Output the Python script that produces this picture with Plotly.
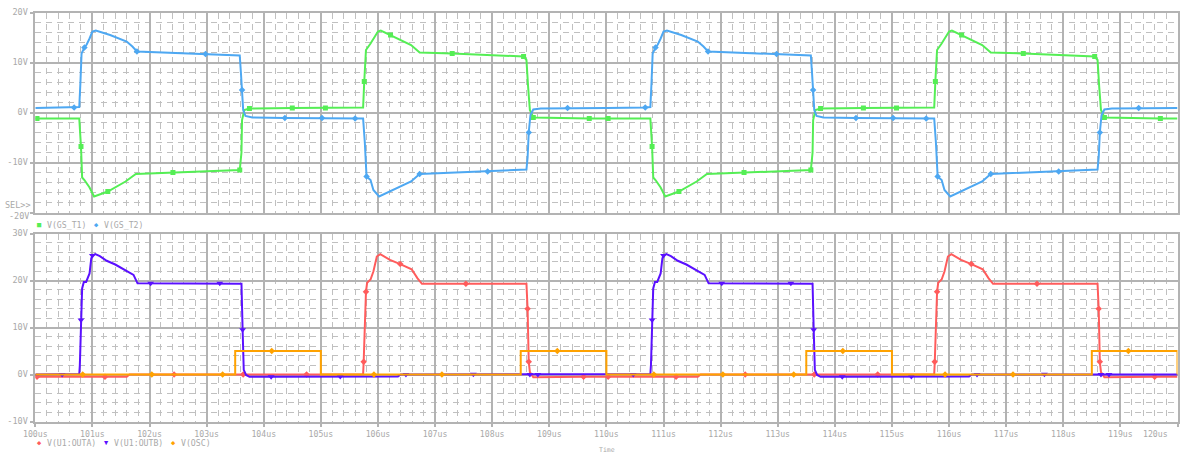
import plotly.graph_objects as go

# ---------------- time axis (us) ----------------
x_ticks = [100, 101, 102, 103, 104, 105, 106, 107, 108, 109, 110,
           111, 112, 113, 114, 115, 116, 117, 118, 119, 120]
x_tick_labels = ["100us", "101us", "102us", "103us", "104us", "105us", "106us",
                 "107us", "108us", "109us", "110us", "111us", "112us", "113us",
                 "114us", "115us", "116us", "117us", "118us", "119us", "120us"]

top_y_ticks = [20, 10, 0, -10, -20]
top_y_labels = ["20V", "10V", "0V", "-10V", ""]
bot_y_ticks = [30, 20, 10, 0, -10]
bot_y_labels = ["30V", "20V", "10V", "0V", "-10V"]

# ---------------- V(GS_T1) ----------------
gs_t1_time = [100.00, 100.03, 100.77, 100.79, 100.80, 100.82, 100.86, 100.95, 101.03, 101.27,
              101.58, 101.76, 102.41, 103.58, 103.61, 103.62, 103.66, 103.75, 104.50, 105.08,
              105.74, 105.76, 105.79, 105.87, 106.00, 106.05, 106.22, 106.58, 106.73, 107.30,
              108.55, 108.60, 108.63, 108.66, 108.72, 109.00, 109.70,
              110.00, 110.03, 110.77, 110.79, 110.80, 110.82, 110.86, 110.95, 111.03, 111.27,
              111.58, 111.76, 112.41, 113.58, 113.61, 113.62, 113.66, 113.75, 114.50, 115.08,
              115.74, 115.76, 115.79, 115.87, 116.00, 116.05, 116.22, 116.58, 116.73, 117.30,
              118.55, 118.60, 118.63, 118.66, 118.72, 119.00, 119.70, 120.00]
gs_t1_volt = [-1.2, -1.2, -1.2, -5.0, -6.8, -13.0, -13.5, -15.0, -16.8, -15.8,
              -13.8, -12.3, -12.0, -11.5, -8.0, -1.5, 0.5, 0.8, 0.9, 0.9,
              1.0, 6.2, 12.5, 13.8, 16.2, 16.4, 15.5, 13.5, 12.0, 11.8,
              11.2, 10.5, 5.0, 0.5, -1.0, -1.1, -1.2,
              -1.2, -1.2, -1.2, -5.0, -6.8, -13.0, -13.5, -15.0, -16.8, -15.8,
              -13.8, -12.3, -12.0, -11.5, -8.0, -1.5, 0.5, 0.8, 0.9, 0.9,
              1.0, 6.2, 12.5, 13.8, 16.2, 16.4, 15.5, 13.5, 12.0, 11.8,
              11.2, 10.5, 5.0, 0.5, -1.0, -1.1, -1.2, -1.2]
gs_t1_marks = [100.03, 100.80, 101.27, 102.41, 103.58, 103.75, 104.50, 105.08, 105.76,
               106.22, 107.30, 108.55, 108.72, 109.70,
               110.03, 110.80, 111.27, 112.41, 113.58, 113.75, 114.50, 115.08, 115.76,
               116.22, 117.30, 118.55, 118.72, 119.70]

# ---------------- V(GS_T2) ----------------
gs_t2_time = [100.00, 100.68, 100.77, 100.79, 100.81, 100.86, 100.90, 100.95, 101.00, 101.06,
              101.31, 101.60, 101.70, 101.78, 102.53, 102.98, 103.58, 103.60, 103.62, 103.64,
              103.68, 103.80, 104.37, 105.02, 105.60, 105.74, 105.77, 105.80, 105.87, 105.92,
              106.02, 106.17, 106.58, 106.73, 107.92, 108.60, 108.62, 108.64, 108.67, 108.72,
              108.85, 109.32,
              110.00, 110.68, 110.77, 110.79, 110.81, 110.86, 110.90, 110.95, 111.00, 111.06,
              111.31, 111.60, 111.70, 111.78, 112.53, 112.98, 113.58, 113.60, 113.62, 113.64,
              113.68, 113.80, 114.37, 115.02, 115.60, 115.74, 115.77, 115.80, 115.87, 115.92,
              116.02, 116.17, 116.58, 116.73, 117.92, 118.60, 118.62, 118.64, 118.67, 118.72,
              118.85, 119.32, 120.00]
gs_t2_volt = [0.9, 1.0, 1.1, 6.0, 11.8, 13.0, 13.6, 14.8, 16.2, 16.4,
              15.5, 14.2, 13.2, 12.2, 11.9, 11.7, 11.4, 8.0, 4.5, 0.5,
              -0.7, -1.0, -1.1, -1.1, -1.2, -1.2, -6.0, -12.8, -13.5, -15.5,
              -16.8, -16.0, -13.8, -12.3, -11.8, -11.4, -9.0, -4.0, -0.5, 0.6,
              0.8, 0.9,
              0.9, 1.0, 1.1, 6.0, 11.8, 13.0, 13.6, 14.8, 16.2, 16.4,
              15.5, 14.2, 13.2, 12.2, 11.9, 11.7, 11.4, 8.0, 4.5, 0.5,
              -0.7, -1.0, -1.1, -1.1, -1.2, -1.2, -6.0, -12.8, -13.5, -15.5,
              -16.8, -16.0, -13.8, -12.3, -11.8, -11.4, -9.0, -4.0, -0.5, 0.6,
              0.8, 0.9, 0.9]
gs_t2_marks = [100.68, 100.86, 101.78, 102.98, 103.62, 104.37, 105.02, 105.60, 105.80,
               106.73, 107.92, 108.64, 109.32,
               110.68, 110.86, 111.78, 112.98, 113.62, 114.37, 115.02, 115.60, 115.80,
               116.73, 117.92, 118.64, 119.32]

# ---------------- V(U1:OUTA) ----------------
outa_time = [100.00, 100.03, 101.22, 101.60, 101.65, 102.43, 103.64, 104.75, 105.74, 105.75,
             105.79, 105.81, 105.87, 105.92, 105.98, 106.04, 106.21, 106.39, 106.59, 106.69,
             106.77, 107.54, 108.60, 108.62, 108.64, 108.66, 108.72, 109.60,
             110.00, 110.03, 111.22, 111.60, 111.65, 112.43, 113.64, 114.75, 115.74, 115.75,
             115.79, 115.81, 115.87, 115.92, 115.98, 116.04, 116.21, 116.39, 116.59, 116.69,
             116.77, 117.54, 118.60, 118.62, 118.64, 118.66, 118.72, 119.60, 120.00]
outa_volt = [-0.5, -0.5, -0.5, -0.5, 0.0, 0.0, 0.0, 0.0, 0.0, 2.7,
             17.6, 19.5, 20.2, 21.9, 25.1, 25.6, 24.4, 23.5, 22.4, 20.5,
             19.3, 19.3, 19.3, 14.0, 2.7, 0.5, -0.6, -0.5,
             -0.5, -0.5, -0.5, -0.5, 0.0, 0.0, 0.0, 0.0, 0.0, 2.7,
             17.6, 19.5, 20.2, 21.9, 25.1, 25.6, 24.4, 23.5, 22.4, 20.5,
             19.3, 19.3, 19.3, 14.0, 2.7, 0.5, -0.6, -0.5, -0.5]
outa_marks = [100.03, 101.22, 102.43, 103.64, 104.75, 105.75, 105.79, 106.39, 107.54,
              108.62, 108.64, 109.60,
              110.03, 111.22, 112.43, 113.64, 114.75, 115.75, 115.79, 116.39, 117.54,
              118.62, 118.64, 119.60]

# ---------------- V(U1:OUTB) ----------------
outb_time = [100.00, 100.47, 100.77, 100.78, 100.80, 100.82, 100.85, 100.89, 100.95, 100.98,
             101.00, 101.05, 101.13, 101.25, 101.40, 101.57, 101.72, 101.79, 102.02, 103.23,
             103.61, 103.63, 103.65, 103.69, 103.75, 104.13, 105.34, 106.35, 106.40, 106.49,
             107.67, 108.60, 108.66, 108.80,
             110.00, 110.47, 110.77, 110.78, 110.80, 110.82, 110.85, 110.89, 110.95, 110.98,
             111.00, 111.05, 111.13, 111.25, 111.40, 111.57, 111.72, 111.79, 112.02, 113.23,
             113.61, 113.63, 113.65, 113.69, 113.75, 114.13, 115.34, 116.35, 116.40, 116.49,
             117.67, 118.60, 118.66, 118.80, 120.00]
outb_volt = [0.0, 0.0, 0.1, 2.0, 11.6, 18.3, 19.7, 19.7, 21.5, 24.7,
             25.3, 25.6, 25.2, 24.2, 23.4, 22.2, 21.2, 19.4, 19.4, 19.4,
             19.3, 9.5, 1.0, -0.1, -0.5, -0.5, -0.4, -0.4, 0.0, 0.0,
             0.05, 0.05, 0.0, 0.0,
             0.0, 0.0, 0.1, 2.0, 11.6, 18.3, 19.7, 19.7, 21.5, 24.7,
             25.3, 25.6, 25.2, 24.2, 23.4, 22.2, 21.2, 19.4, 19.4, 19.4,
             19.3, 9.5, 1.0, -0.1, -0.5, -0.5, -0.4, -0.4, 0.0, 0.0,
             0.05, 0.05, 0.0, 0.0, 0.0]
outb_marks = [100.47, 100.80, 101.00, 102.02, 103.23, 103.63, 104.13, 105.34, 106.49,
              107.67, 108.66, 108.80,
              110.47, 110.80, 111.00, 112.02, 113.23, 113.63, 114.13, 115.34, 116.49,
              117.67, 118.66, 118.80]

# ---------------- V(OSC) ----------------
osc_time = [100.00, 100.83, 102.04, 103.28, 103.50, 103.50, 104.14, 105.00, 105.00, 105.93,
            107.12, 108.50, 108.50, 109.14,
            110.00, 110.00, 110.83, 112.04, 113.28, 113.50, 113.50, 114.14, 115.00, 115.00,
            115.93, 117.12, 118.50, 118.50, 119.14, 120.00, 120.00]
osc_volt = [0.0, 0.0, 0.0, 0.0, 0.0, 5.0, 5.0, 5.0, 0.0, 0.0,
            0.0, 0.0, 5.0, 5.0,
            5.0, 0.0, 0.0, 0.0, 0.0, 0.0, 5.0, 5.0, 5.0, 0.0,
            0.0, 0.0, 0.0, 5.0, 5.0, 5.0, 0.0]
osc_marks = [100.83, 102.04, 103.28, 104.14, 105.93, 107.12, 109.14,
             110.83, 112.04, 113.28, 114.14, 115.93, 117.12, 119.14]

# ---------------- styling ----------------
W, H = 1185, 454
FONT = "DejaVu Sans Mono"
TXT = "#a9a9a9"
GRID_MAJOR = "#b3b3b3"
GRID_MINOR = "#c0c0c0"
MINOR_DASH = "6px,5px"

C_T1 = "#55ee55"
C_T2 = "#4ea8f2"
C_OUTA = "#ff5c5c"
C_OUTB = "#5a10ff"
C_OSC = "#ffa200"

X0, X1 = 35.3, 1177.5          # plot left/right edges (px)
TOP_Y0, TOP_Y1 = 12.5, 212.5   # top plot (px from top)
BOT_Y0, BOT_Y1 = 233.5, 421.5  # bottom plot


def px_x(p):
    return p / W


def px_y(p):
    return 1 - p / H


fig = go.Figure()


def add_signal(t, v, marks, color, symbol, size, xa, ya):
    fig.add_trace(go.Scatter(x=t, y=v, mode="lines", line=dict(color=color, width=2),
                             xaxis=xa, yaxis=ya, showlegend=False, hoverinfo="skip"))
    idx = [t.index(m) for m in marks]
    fig.add_trace(go.Scatter(x=[t[i] for i in idx], y=[v[i] for i in idx], mode="markers",
                             marker=dict(color=color, symbol=symbol, size=size,
                                         line=dict(width=0)),
                             xaxis=xa, yaxis=ya, showlegend=False, hoverinfo="skip"))


add_signal(gs_t1_time, gs_t1_volt, gs_t1_marks, C_T1, "square", 5, "x", "y")
add_signal(gs_t2_time, gs_t2_volt, gs_t2_marks, C_T2, "diamond", 5, "x", "y")
add_signal(outa_time, outa_volt, outa_marks, C_OUTA, "diamond", 5, "x2", "y2")
add_signal(outb_time, outb_volt, outb_marks, C_OUTB, "triangle-down", 6, "x2", "y2")
add_signal(osc_time, osc_volt, osc_marks, C_OSC, "diamond", 5, "x2", "y2")

# the last time label sits inside the right edge, so it is drawn as a note below
shown_x_labels = x_tick_labels[:-1] + [""]

common_x = dict(range=[100, 120], domain=[px_x(X0), px_x(X1)], automargin=False,
                tickvals=x_ticks, showgrid=True, gridcolor=GRID_MAJOR, gridwidth=1.6,
                minor=dict(dtick=0.2, tick0=100, showgrid=True, gridcolor=GRID_MINOR,
                           gridwidth=1.4, griddash=MINOR_DASH, ticks=""),
                showline=True, mirror=True, linecolor=GRID_MAJOR, linewidth=1.6,
                zeroline=False, fixedrange=True, ticklabeloverflow="allow",
                tickfont=dict(family=FONT, size=8.2, color=TXT))

common_y = dict(showgrid=True, gridcolor=GRID_MAJOR, gridwidth=1.6, automargin=False,
                showline=True, mirror=True, linecolor=GRID_MAJOR, linewidth=1.6,
                zeroline=False, fixedrange=True, ticks="outside", ticklen=4,
                tickcolor=GRID_MAJOR, tickwidth=1.5,
                tickfont=dict(family=FONT, size=8.5, color=TXT))

fig.update_layout(
    width=W, height=H, margin=dict(l=0, r=0, t=0, b=0),
    paper_bgcolor="white", plot_bgcolor="white",
    xaxis=dict(common_x, anchor="y", ticks="", showticklabels=False),
    yaxis=dict(common_y, anchor="x", range=[-20, 20],
               domain=[px_y(TOP_Y1), px_y(TOP_Y0)],
               tickvals=top_y_ticks, ticktext=top_y_labels,
               minor=dict(dtick=2, tick0=0, showgrid=True, gridcolor=GRID_MINOR,
                          gridwidth=1.4, griddash=MINOR_DASH, ticks="")),
    xaxis2=dict(common_x, anchor="y2", ticks="outside", ticklen=4, tickcolor=GRID_MAJOR,
                tickwidth=1.5, ticktext=shown_x_labels, showticklabels=True,
                ticklabelstandoff=0),
    yaxis2=dict(common_y, anchor="x2", range=[-10, 30],
                domain=[px_y(BOT_Y1), px_y(BOT_Y0)],
                tickvals=bot_y_ticks, ticktext=bot_y_labels,
                minor=dict(dtick=2, tick0=0, showgrid=True, gridcolor=GRID_MINOR,
                           gridwidth=1.4, griddash=MINOR_DASH, ticks="")),
)


def note(text, xp, yp, size=8.2, color=TXT, xanchor="left"):
    fig.add_annotation(text=text, x=px_x(xp), y=px_y(yp), xref="paper", yref="paper",
                       xanchor=xanchor, yanchor="middle", showarrow=False,
                       font=dict(family=FONT, size=size, color=color))


# last time label, pulled in from the right edge
note(x_tick_labels[-1], 1170, 433.5, xanchor="right")

# lower label of the top plot and selection marker
note("SEL>>", 3, 205, size=8.5)
note("-20V", 31, 215.5, size=8.5, xanchor="right")

# legends
note("■", 35, 225, size=7, color=C_T1)
note("V(GS_T1)", 45, 225)
note("◆", 92, 225, size=7, color=C_T2)
note("V(GS_T2)", 102, 225)

note("◆", 35, 442.5, size=7, color=C_OUTA)
note("V(U1:OUTA)", 45, 442.5)
note("▼", 101.5, 442.5, size=7, color=C_OUTB)
note("V(U1:OUTB)", 112, 442.5)
note("◆", 169, 442.5, size=7, color=C_OSC)
note("V(OSC)", 179, 442.5)

note("Time", 607, 449.5, size=6.5, xanchor="center")

fig.write_html("out.html")
